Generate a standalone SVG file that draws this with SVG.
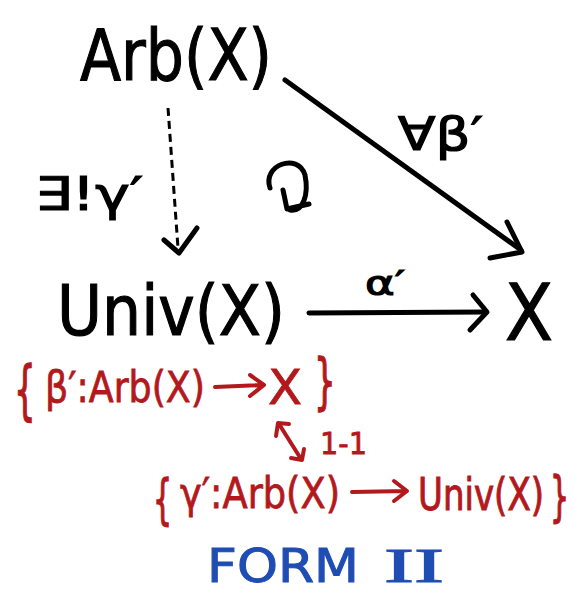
<svg xmlns="http://www.w3.org/2000/svg" width="575" height="594" viewBox="0 0 575 594">
<style>
.k{font-family:"DejaVu Sans","Liberation Sans",sans-serif;fill:#000;stroke:#000;stroke-width:1.2}
.r{font-family:"DejaVu Sans","Liberation Sans",sans-serif;fill:#b3191c;stroke:#b3191c;stroke-width:0.8}
.b{font-family:"DejaVu Sans","Liberation Sans",sans-serif;fill:#1f4db3;stroke:#1f4db3;stroke-width:1}
.ln{fill:none;stroke:#000;stroke-width:5;stroke-linecap:round;stroke-linejoin:round}
.rl{fill:none;stroke:#b3191c;stroke-width:4;stroke-linecap:round;stroke-linejoin:round}
</style>
<rect width="575" height="594" fill="#fff"/>
<g id="node-arb">
<text class="k" x="80" y="80" font-size="72" textLength="192" lengthAdjust="spacingAndGlyphs">Arb(X)</text>
</g>
<g id="node-univ">
<text class="k" x="57" y="335" font-size="70" textLength="228" lengthAdjust="spacingAndGlyphs">Univ(X)</text>
</g>
<g id="node-x">
<text class="k" x="505" y="340" font-size="78" textLength="48" lengthAdjust="spacingAndGlyphs">X</text>
</g>
<g id="connectors">
<path class="ln" d="M285 80 L521 250"/>
<path class="ln" d="M507 222 L522 252 L490 258"/>
<path d="M168 108 L178 248" fill="none" stroke="#000" stroke-width="3" stroke-dasharray="8,5"/>
<path class="ln" d="M164 240 L179 253 L197 228" stroke-width="4"/>
<path class="ln" d="M309 313 L485 312"/>
<path class="ln" d="M473 295 L487 312 L470 330"/>
<path class="ln" d="M270 188 C262 165 298 152 305 175 C309 195 303 212 290 210 M283 190 L287 209 L309 204"/>
</g>
<g id="labels">
<text class="k" x="35" y="210" font-size="46" textLength="108" lengthAdjust="spacingAndGlyphs">∃!γ′</text>
<text class="k" x="398" y="150" font-size="46" textLength="85" lengthAdjust="spacingAndGlyphs">∀β′</text>
<text class="k" x="365" y="295" font-size="34" textLength="40" lengthAdjust="spacingAndGlyphs">α′</text>
</g>
<g id="set-beta">
<text class="r" transform="translate(14,412) scale(1,1.9)" font-size="34">{</text>
<text class="r" x="45" y="402" font-size="42" textLength="160" lengthAdjust="spacingAndGlyphs">β′:Arb(X)</text>
<path class="rl" d="M215 387 L263 385 M250 375 L264 385 L250 396"/>
<text class="r" x="268" y="404" font-size="48" textLength="34" lengthAdjust="spacingAndGlyphs">X</text>
<text class="r" transform="translate(314,402) scale(1,1.8)" font-size="34">}</text>
</g>
<g id="bijection">
<path class="rl" d="M279 424 L301 459 M276 436 L278 423 L289 424 M291 458 L302 460 L304 449"/>
<text class="r" x="320" y="454" font-size="30" textLength="47" lengthAdjust="spacingAndGlyphs">1-1</text>
</g>
<g id="set-gamma">
<text class="r" transform="translate(153,518) scale(1,1.8)" font-size="30">{</text>
<text class="r" x="180" y="508" font-size="42" textLength="160" lengthAdjust="spacingAndGlyphs">γ′:Arb(X)</text>
<path class="rl" d="M352 492 L406 491 M394 481 L407 491 L394 501"/>
<text class="r" transform="translate(418,510) scale(1,1.3)" font-size="34" textLength="126" lengthAdjust="spacingAndGlyphs">Univ(X)</text>
<text class="r" transform="translate(550,515) scale(1,1.8)" font-size="30">}</text>
</g>
<g id="title">
<text class="b" x="207" y="582" font-size="46" textLength="152" lengthAdjust="spacingAndGlyphs">FORM</text>
<text class="b" x="384" y="582" font-size="48" textLength="60" lengthAdjust="spacingAndGlyphs" style="font-family:'Liberation Serif',serif">II</text>
</g>
</svg>
